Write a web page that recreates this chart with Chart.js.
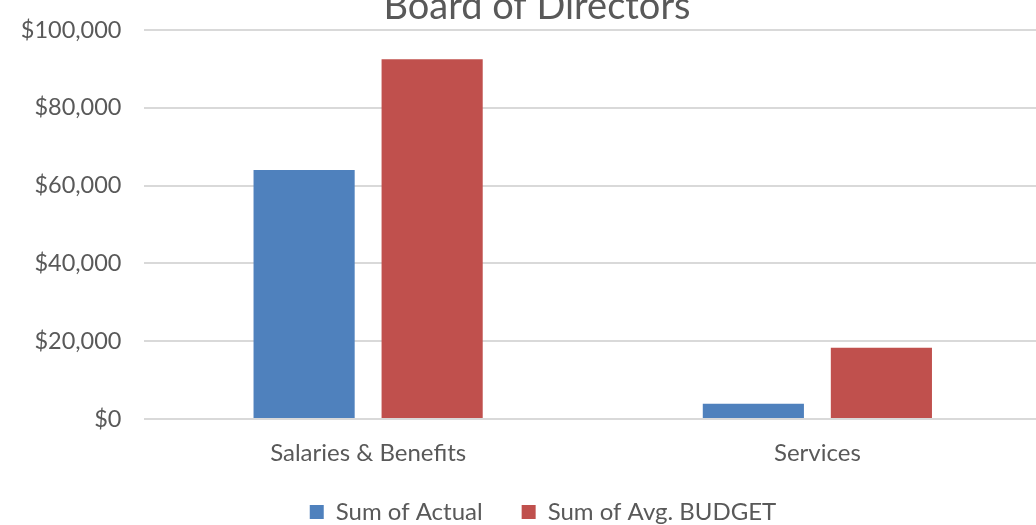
<!DOCTYPE html>
<html>
<head>
<meta charset="utf-8">
<script src="https://cdn.jsdelivr.net/npm/chart.js@4/dist/chart.umd.min.js"></script>
<style>
  html, body { margin: 0; padding: 0; background: #fff; overflow: hidden; }
  #wrap { width: 1036px; height: 525px; overflow: hidden; }
  #box { width: 1042px; height: 525px; }
</style>
</head>
<body>
<div id="wrap"><div id="box"><canvas id="chart"></canvas></div></div>
<script>
const categories = ['Salaries & Benefits', 'Services'];
const actual = [64000, 3900];
const budget = [92500, 18300];
const seriesNames = ['Sum of Actual', 'Sum of Avg. BUDGET'];
const chartTitle = 'Board of Directors';

const textColor = '#595959';
const font = 'Lato';

// title sits half off the top edge, so draw it by hand
const titlePlugin = {
  id: 'cutTitle',
  afterDraw(chart) {
    const c = chart.ctx;
    c.save();
    c.font = '38px ' + font;
    c.fillStyle = textColor;
    c.textAlign = 'center';
    c.textBaseline = 'alphabetic';
    c.fillText(chartTitle, 537, 19);
    c.restore();
  }
};

// wide gap between legend items without a tall legend box
const legendFix = {
  id: 'legendFix',
  beforeLayout(chart) {
    const lg = chart.legend;
    if (lg && !lg._patched) {
      const orig = lg.fit;
      lg.fit = function () { orig.call(this); this.height = 56; };
      lg._patched = true;
    }
  },
  afterLayout(chart) {
    const lg = chart.legend;
    if (lg) {
      lg.left += 22; lg.right += 22;
      lg.top = 461; lg.bottom = 525;
    }
  }
};

const ctx = document.getElementById('chart').getContext('2d');
new Chart(ctx, {
  type: 'bar',
  data: {
    labels: categories,
    datasets: [
      { label: seriesNames[0], data: actual, backgroundColor: '#4f81bd' },
      { label: seriesNames[1], data: budget, backgroundColor: '#c0504d' }
    ]
  },
  options: {
    responsive: true,
    maintainAspectRatio: false,
    animation: false,
    layout: { padding: { top: 30, right: 0, bottom: 0, left: 0 } },
    datasets: { bar: { categoryPercentage: 0.57, barPercentage: 0.79 } },
    scales: {
      x: {
        grid: { display: false },
        border: { display: false },
        ticks: { color: textColor, font: { family: font, size: 24 }, padding: 12 },
        afterFit(scale) { scale.height = 50; }
      },
      y: {
        min: 0, max: 100000,
        ticks: {
          stepSize: 20000,
          color: textColor,
          font: { family: font, size: 23.5 },
          padding: 22,
          callback: v => '$' + v.toLocaleString('en-US')
        },
        grid: { color: '#d9d9d9', lineWidth: 2, drawTicks: false },
        border: { display: false },
        afterFit(scale) {
          scale.width = 143.5;
          scale.paddingTop = 0;
          scale.paddingBottom = 0;
        }
      }
    },
    plugins: {
      title: { display: false },
      tooltip: { enabled: false },
      legend: {
        position: 'bottom',
        labels: {
          color: textColor,
          font: { family: font, size: 24, lineHeight: 1 },
          boxWidth: 14,
          boxHeight: 14,
          padding: 39
        }
      }
    }
  },
  plugins: [titlePlugin, legendFix]
});
</script>
</body>
</html>
